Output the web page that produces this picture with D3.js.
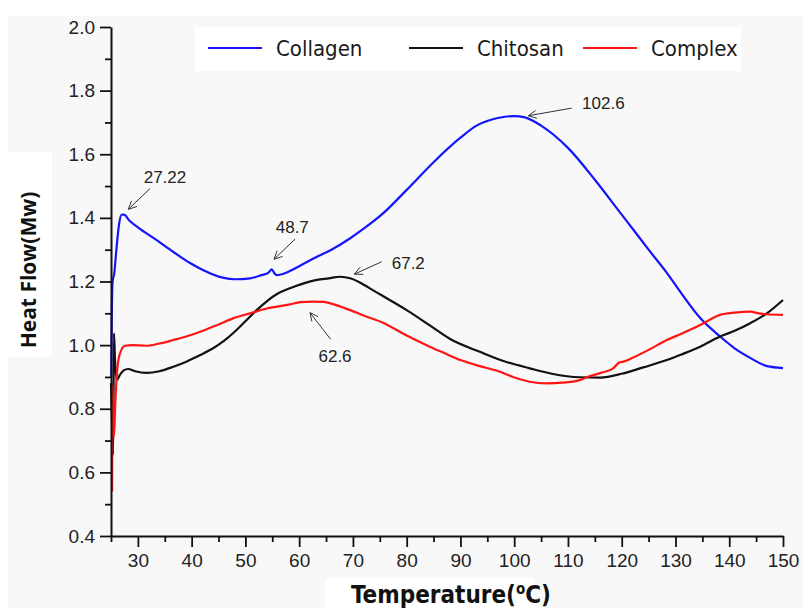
<!DOCTYPE html>
<html>
<head>
<meta charset="utf-8">
<script src="https://cdn.jsdelivr.net/npm/d3@7"></script>
<style>
  body { margin: 0; background: #fff; }
  svg { display: block; }
</style>
</head>
<body>
<script>
// temperature (°C) / heat flow (Mw) pairs
const collagen = [
  [25.05,0.90],[25.15,1.10],[25.3,1.20],[25.6,1.225],[26.0,1.30],[26.5,1.38],[27.0,1.41],[27.4,1.41],
  [28.5,1.39],[30,1.37],[33.5,1.33],[36,1.30],[39.7,1.258],[42,1.237],[45.8,1.212],[48,1.207],
  [50.9,1.21],[53,1.22],[54.3,1.228],[54.9,1.238],[55.4,1.226],[55.8,1.22],[57.9,1.23],[60,1.248],
  [63.3,1.278],[66,1.30],[69.5,1.336],[72,1.366],[75.6,1.414],[80,1.488],[85,1.575],[90,1.652],
  [93,1.690],[96,1.710],[98,1.717],[100,1.72],[102,1.716],[105,1.69],[110,1.62],[115,1.52],[120,1.41],
  [122.2,1.362],[125,1.30],[128.4,1.227],[131,1.165],[134.6,1.085],[138.3,1.027],[141,0.99],
  [143.9,0.96],[147,0.934],[150,0.928]
]
const chitosan = [
  [25.0,0.88],[25.2,0.75],[25.4,0.655],[25.55,1.037],[25.75,0.95],[26.1,0.89],[26.6,0.905],[27.3,0.92],
  [28.2,0.925],[29.5,0.918],[31.6,0.913],[34,0.918],[36.6,0.932],[39,0.948],[41.6,0.969],[44,0.99],
  [46,1.013],[48,1.042],[50,1.075],[52.1,1.11],[55.8,1.16],[58.3,1.179],[61,1.195],[63.3,1.205],[65.5,1.21],
  [67.6,1.215],[69.5,1.21],[71.3,1.197],[73,1.18],[75.5,1.155],[80,1.11],[84.3,1.062],[88,1.02],
  [93.6,0.979],[98,0.95],[102.9,0.927],[107,0.91],[112.2,0.899],[116,0.898],[120,0.91],[124,0.93],
  [128.4,0.953],[131,0.97],[134.6,0.995],[138.3,1.027],[141,1.045],[143.9,1.069],[147,1.10],[150,1.142]
]
const complex = [
  [25.2,0.54],[25.3,0.875],[25.45,0.75],[25.55,0.712],[25.8,0.82],[26.2,0.93],[26.7,0.975],[27.6,0.998],
  [29,1.0],[31.6,0.998],[34,1.005],[36.6,1.016],[39,1.027],[41.6,1.042],[45,1.065],[47.7,1.084],
  [50.9,1.10],[54,1.115],[58.3,1.128],[60.2,1.135],[62.5,1.137],[64.5,1.136],[67,1.125],[69.5,1.11],
  [72,1.093],[75.5,1.071],[80,1.03],[84.3,0.995],[87,0.975],[90,0.953],[93.6,0.934],[96.7,0.92],
  [99.8,0.90],[102.9,0.885],[106,0.88],[109,0.882],[112.2,0.89],[113.5,0.899],[116,0.912],[118.4,0.927],
  [119.5,0.945],[120.3,0.948],[122,0.96],[125,0.985],[128.4,1.016],[131,1.035],[134.6,1.063],
  [138.3,1.095],[141,1.102],[143.9,1.105],[145.5,1.10],[147,1.097],[150,1.095]
]

const seriesNames = ['Collagen', 'Chitosan', 'Complex']
const seriesColors = ['#1414ff', '#111111', '#ff1414']

const xTicks = [30,40,50,60,70,80,90,100,110,120,130,140,150]
const xMinorTicks = [25,35,45,55,65,75,85,95,105,115,125,135,145]
const yTicks = [0.4,0.6,0.8,1.0,1.2,1.4,1.6,1.8,2.0]
const yMinorTicks = [0.5,0.7,0.9,1.1,1.3,1.5,1.7,1.9]

// peak labels: text, arrow tip, arrow tail, text centre (data units)
const peakLabels = [
  {text: '27.22', tip: [28.22,1.427], tail: [32.25,1.492], at: [35.04,1.529]},
  {text: '48.7', tip: [55.32,1.270], tail: [59.23,1.333], at: [58.72,1.372]},
  {text: '67.2', tip: [70.26,1.223], tail: [75.35,1.262], at: [80.30,1.259]},
  {text: '62.6', tip: [62.02,1.102], tail: [65.87,1.018], at: [66.67,0.966]},
  {text: '102.6', tip: [102.62,1.721], tail: [110.70,1.745], at: [116.58,1.762]}
]

const W = 803, H = 608
const margin = {top: 27, left: 111, right: 20, bottom: 72}
const width = W - margin.left - margin.right
const height = H - margin.top - margin.bottom

const svg = d3.select('body').append('svg')
  .attr('width', W)
  .attr('height', H)

// backdrop: pale grey with white patches behind legend and titles
svg.append('rect').attr('x', 8).attr('y', 16).attr('width', W - 8).attr('height', H - 16).attr('fill', '#f8f8f8')
svg.append('rect').attr('x', 8).attr('y', 152).attr('width', 44).attr('height', 205).attr('fill', '#fff')
svg.append('rect').attr('x', 325).attr('y', 578).attr('width', 210).attr('height', 30).attr('fill', '#fff')

const x = d3.scaleLinear().domain([25, 150]).range([0, width])
const y = d3.scaleLinear().domain([0.4, 2.0]).range([height, 0])

const g = svg.append('g')
  .attr('transform', `translate(${margin.left},${margin.top})`)

const line = d3.line()
  .x(d => x(d[0]))
  .y(d => y(d[1]))
  .curve(d3.curveMonotoneX)

;[collagen, chitosan, complex].forEach((s, i) => {
  g.append('path')
    .datum(s)
    .attr('fill', 'none')
    .attr('stroke', seriesColors[i])
    .attr('stroke-width', 2.2)
    .attr('stroke-linejoin', 'round')
    .attr('d', line)
})

// axes
const tickFont = '"Liberation Sans", Arial, sans-serif'

g.append('g')
  .attr('transform', `translate(0,${height})`)
  .call(d3.axisBottom(x).tickValues(xTicks).tickSize(11).tickSizeOuter(0).tickPadding(7))
g.append('g')
  .attr('transform', `translate(0,${height})`)
  .call(d3.axisBottom(x).tickValues(xMinorTicks).tickSize(6).tickFormat('').tickSizeOuter(0))
  .call(a => a.select('.domain').remove())

g.append('g')
  .call(d3.axisLeft(y).tickValues(yTicks).tickSize(11).tickSizeOuter(0).tickPadding(5).tickFormat(d3.format('.1f')))
g.append('g')
  .call(d3.axisLeft(y).tickValues(yMinorTicks).tickSize(6).tickFormat('').tickSizeOuter(0))
  .call(a => a.select('.domain').remove())

g.selectAll('.domain').attr('stroke', '#111').attr('stroke-width', 2)
g.selectAll('.tick line').attr('stroke', '#111').attr('stroke-width', 1.8)
g.selectAll('.tick text')
  .attr('font-family', tickFont)
  .attr('font-size', 19)
  .attr('fill', '#222')

// peak arrows
const arrows = g.append('g').attr('stroke', '#333').attr('stroke-width', 1).attr('fill', 'none')
peakLabels.forEach(p => {
  const x1 = x(p.tail[0]), y1 = y(p.tail[1]), x2 = x(p.tip[0]), y2 = y(p.tip[1])
  const ang = Math.atan2(y2 - y1, x2 - x1)
  const len = 9, spread = 0.45
  arrows.append('line').attr('x1', x1).attr('y1', y1).attr('x2', x2).attr('y2', y2)
  arrows.append('path')
    .attr('d', `M${x2 - len * Math.cos(ang - spread)},${y2 - len * Math.sin(ang - spread)}L${x2},${y2}L${x2 - len * Math.cos(ang + spread)},${y2 - len * Math.sin(ang + spread)}`)
  g.append('text')
    .attr('x', x(p.at[0]))
    .attr('y', y(p.at[1]))
    .attr('dy', '0.36em')
    .attr('text-anchor', 'middle')
    .attr('font-family', tickFont)
    .attr('font-size', 17)
    .attr('fill', '#222')
    .text(p.text)
})

// legend
const titleFont = '"Liberation Sans Narrow", "DejaVu Sans Condensed", "Open Sans", sans-serif'
const legend = svg.append('g')
legend.append('rect').attr('x', 195).attr('y', 27).attr('width', 546).attr('height', 44).attr('fill', '#fff')
const legendX = [208, 409, 583]
seriesNames.forEach((name, i) => {
  legend.append('line')
    .attr('x1', legendX[i]).attr('x2', legendX[i] + 54)
    .attr('y1', 48).attr('y2', 48)
    .attr('stroke', seriesColors[i]).attr('stroke-width', 2)
  legend.append('text')
    .attr('x', legendX[i] + 68)
    .attr('y', 48)
    .attr('dy', '0.35em')
    .attr('font-family', titleFont)
    .attr('font-size', 22)
    .attr('fill', '#1a1a1a')
    .text(name)
})

// axis titles
svg.append('text')
  .attr('x', 451)
  .attr('y', 603)
  .attr('text-anchor', 'middle')
  .attr('font-family', titleFont)
  .attr('font-weight', 'bold')
  .attr('font-size', 24)
  .attr('fill', '#111')
  .html('Temperature(<tspan baseline-shift="super" font-size="15">o</tspan>C)')

svg.append('text')
  .attr('transform', 'translate(36,270) rotate(-90)')
  .attr('text-anchor', 'middle')
  .attr('font-family', '"Open Sans", "DejaVu Sans", sans-serif')
  .attr('font-weight', 'bold')
  .attr('font-size', 21)
  .attr('fill', '#111')
  .text('Heat Flow(Mw)')
</script>
</body>
</html>
